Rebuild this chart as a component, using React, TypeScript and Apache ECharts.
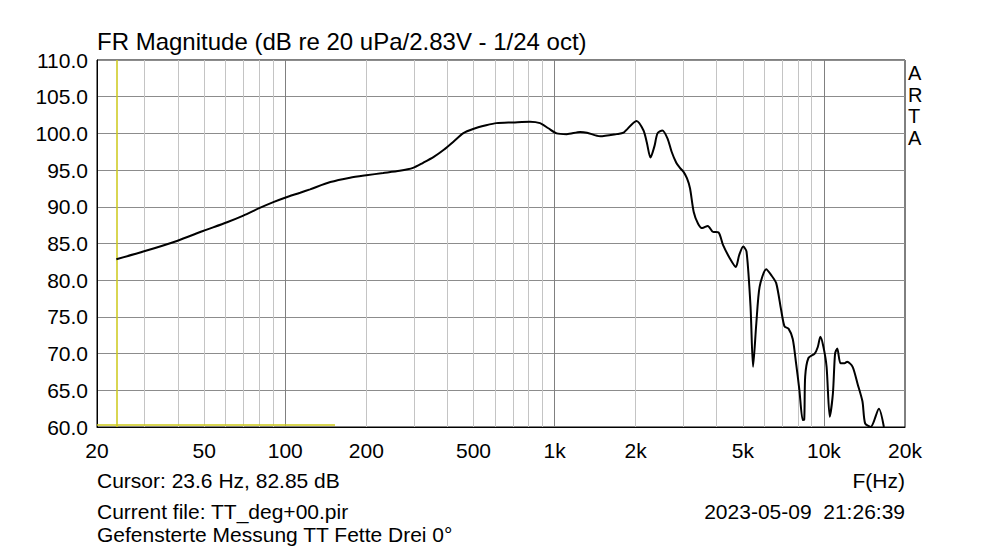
import React, { useEffect, useRef } from "react";
import * as echarts from "echarts";

const freqs = [
  23.6, 29.7, 39.6, 49.5, 60.8, 69.9, 80.4, 90.3, 99.8, 113.6, 123.6, 147, 174, 200, 231, 266, 298, 325,
  356, 389, 422, 457, 498, 557, 608, 701, 810, 883, 948, 1018, 1110, 1244, 1318, 1476, 1702, 1803, 2014,
  2139, 2199, 2270, 2350, 2410, 2513, 2627, 2720, 2830, 2920, 3007, 3100, 3184, 3285, 3410, 3535, 3706,
  3866, 4064, 4219, 4470, 4708, 4844, 5015, 5160, 5340, 5456, 5610, 5770, 6105, 6370, 6650, 6940, 7140,
  7387, 7660, 7880, 8110, 8340, 8450, 8520, 8760, 9240, 9490, 9700, 9960, 10230, 10510, 10800, 11000,
  11210, 11520, 11930, 12200, 12780, 13330, 13900, 14220, 14920, 16000, 16700,
];
const levels = [
  82.85, 83.9, 85.35, 86.7, 87.9, 88.8, 89.85, 90.64, 91.24, 91.92, 92.38, 93.37, 93.97, 94.3, 94.6, 94.9,
  95.3, 96.0, 96.8, 97.8, 98.9, 100.0, 100.6, 101.1, 101.4, 101.5, 101.6, 101.4, 100.7, 100.0, 99.9, 100.2,
  100.1, 99.6, 99.9, 100.1, 101.7, 100.4, 98.8, 96.7, 98.3, 100.0, 100.4, 99.3, 97.5, 96.0, 95.3, 94.8,
  93.9, 92.5, 89.3, 87.7, 87.1, 87.4, 86.6, 86.5, 84.8, 83.0, 81.8, 83.4, 84.6, 83.9, 76.4, 68.2, 74.1,
  79.1, 81.5, 80.7, 79.6, 75.9, 73.7, 73.4, 72.0, 68.7, 65.0, 60.95, 61.0, 66.9, 69.4, 70.0, 70.9, 72.3,
  70.9, 68.2, 61.4, 64.6, 70.0, 70.7, 68.7, 68.7, 68.9, 68.2, 65.9, 63.5, 60.5, 60.0, 62.5, 60.0,
];

const xTickValues = [20, 50, 100, 200, 500, 1000, 2000, 5000, 10000, 20000];
const xTickLabels = ["20", "50", "100", "200", "500", "1k", "2k", "5k", "10k", "20k"];
const minorGrid = [
  30, 40, 50, 60, 70, 80, 90, 200, 300, 400, 500, 600, 700, 800, 900, 2000, 3000, 4000, 5000, 6000, 7000,
  8000, 9000,
];
const majorGrid = [100, 1000, 10000];

const cursorFreq = 23.6;
const cursorLevelLineEnd = 153;
const cursorLevelLineY = 60.25;

const titleText = "FR Magnitude (dB re 20 uPa/2.83V - 1/24 oct)";
const cursorText = "Cursor: 23.6 Hz, 82.85 dB";
const fileText = "Current file: TT_deg+00.pir";
const noteText = "Gefensterte Messung TT Fette Drei 0°";
const dateText = "2023-05-09  21:26:39";
const axisName = "F(Hz)";

const FONT = "Liberation Sans, Arial, sans-serif";
const YELLOW = "#cdc818";

export default function App() {
  const ref = useRef<HTMLDivElement>(null);
  useEffect(() => {
    if (!ref.current) return;
    const chart = echarts.init(ref.current, undefined, { renderer: "svg" });
    const data = freqs.map((f, i) => [f, levels[i]]);
    chart.setOption({
      animation: false,
      backgroundColor: "#ffffff",
      textStyle: { fontFamily: FONT },
      grid: {
        left: 97,
        top: 60,
        right: 95,
        bottom: 125,
        show: true,
        borderColor: "#000",
        borderWidth: 1,
        backgroundColor: "transparent",
      },
      xAxis: {
        type: "log",
        logBase: 10,
        min: 20,
        max: 20000,
        axisLabel: { show: false },
        axisTick: { show: false },
        splitLine: { show: false },
        axisLine: { show: true, lineStyle: { color: "#000", width: 1 } },
      },
      yAxis: {
        type: "value",
        min: 60,
        max: 110,
        interval: 5,
        axisLabel: {
          formatter: (v: number) => v.toFixed(1),
          color: "#000",
          fontSize: 21,
          fontFamily: FONT,
          margin: 9,
        },
        axisTick: { show: false },
        axisLine: { show: true, lineStyle: { color: "#000" } },
        splitLine: { show: true, lineStyle: { color: "#8c8c8c", width: 1 } },
      },
      graphic: [
        { type: "text", left: 97, top: 29, style: { text: titleText, fontSize: 24, fontFamily: FONT, fill: "#000" } },
        { type: "text", left: 97, top: 470, style: { text: cursorText, fontSize: 21, fontFamily: FONT, fill: "#000" } },
        { type: "text", left: 97, top: 501, style: { text: fileText, fontSize: 21, fontFamily: FONT, fill: "#000" } },
        { type: "text", left: 97, top: 524, style: { text: noteText, fontSize: 21, fontFamily: FONT, fill: "#000" } },
        { type: "text", right: 95, top: 470, style: { text: axisName, fontSize: 21, fontFamily: FONT, fill: "#000" } },
        { type: "text", right: 95, top: 501, style: { text: dateText, fontSize: 21, fontFamily: FONT, fill: "#000" } },
        {
          type: "text",
          left: 908,
          top: 62,
          style: { text: "A\nR\nT\nA", fontSize: 20, lineHeight: 21.7, fontFamily: FONT, fill: "#000" },
        },
      ],
      series: [
        {
          type: "line",
          data: [],
          z: 1,
          silent: true,
          markLine: {
            silent: true,
            symbol: "none",
            animation: false,
            label: { show: false },
            data: [
              ...minorGrid.map((v) => ({ xAxis: v, lineStyle: { color: "#c4c4c4", width: 1, type: "solid" } })),
              ...majorGrid.map((v) => ({ xAxis: v, lineStyle: { color: "#808080", width: 1, type: "solid" } })),
            ],
          },
        },
        {
          type: "line",
          data: [],
          z: 2,
          silent: true,
          markLine: {
            silent: true,
            symbol: "none",
            animation: false,
            lineStyle: { width: 0, color: "rgba(0,0,0,0)" },
            label: {
              show: true,
              position: "start",
              distance: 13,
              color: "#000",
              fontSize: 21,
              fontFamily: FONT,
              formatter: (p: any) => p.name,
            },
            data: xTickValues.map((v, i) => ({ xAxis: v, name: xTickLabels[i] })),
          },
        },
        {
          type: "line",
          data: [],
          z: 3,
          silent: true,
          markLine: {
            silent: true,
            symbol: "none",
            animation: false,
            label: { show: false },
            lineStyle: { color: YELLOW, width: 1.5, type: "solid" },
            data: [
              { xAxis: cursorFreq },
              [
                { coord: [20, cursorLevelLineY] },
                { coord: [cursorLevelLineEnd, cursorLevelLineY] },
              ],
            ],
          },
        },
        {
          type: "line",
          data,
          z: 5,
          symbol: "none",
          smooth: 0.25,
          clip: true,
          lineStyle: { color: "#000", width: 2 },
        },
      ],
    });
    return () => chart.dispose();
  }, []);
  return <div ref={ref} style={{ position: "fixed", left: 0, top: 0, width: 1000, height: 552 }} />;
}
